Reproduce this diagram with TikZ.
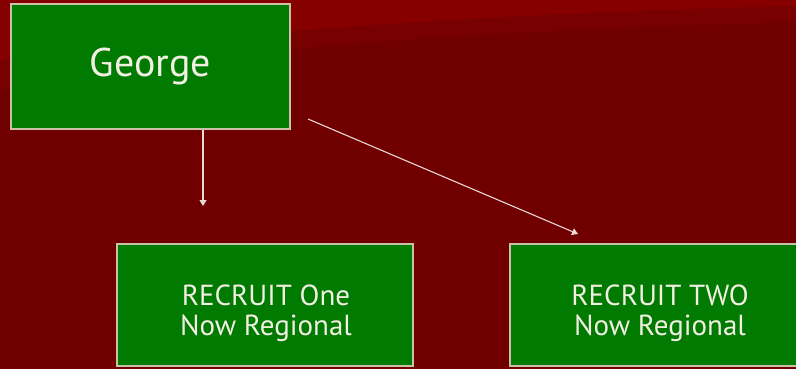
\documentclass[tikz,border=0pt]{standalone}
\usepackage{fontspec}
\setmainfont{PT Sans}
\usetikzlibrary{arrows.meta}
\definecolor{bgdark}{HTML}{700000}
\definecolor{bglight}{HTML}{860000}
\definecolor{bgmid}{HTML}{780000}
\definecolor{boxgreen}{HTML}{007A00}
\definecolor{boxrim}{HTML}{C9C2A8}
\definecolor{ink}{HTML}{F2F0E2}
\definecolor{wire}{HTML}{EAD8D4}
\tikzset{
  boxnode/.style={draw=boxrim, line width=1.2pt, fill=boxgreen, text=ink,
    align=center, inner sep=0pt},
  link/.style={draw=wire, line width=1.1pt,
    -{Triangle[width=7pt,length=6pt]}}
}
\begin{document}
\begin{tikzpicture}[x=1pt,y=-1pt]
  % canvas and background
  \useasboundingbox (0,0) rectangle (796,369);
  \clip (0,0) rectangle (796,369);
  \fill[bgdark] (0,0) rectangle (796,369);
  \fill[bgmid] (0,0) -- (0,90) .. controls (150,55) and (450,30) .. (796,22) -- (796,0) -- cycle;
  \fill[bglight] (0,0) -- (0,60) .. controls (120,45) and (400,15) .. (796,6) -- (796,0) -- cycle;

  % boxes
  \node[boxnode, minimum width=279pt, minimum height=125pt,
        font=\fontsize{40}{44}\selectfont] (george) at (150.5,66.5)
        {\raisebox{-4pt}{George}};
  \node[boxnode, minimum width=296pt, minimum height=122pt] (one) at (265,305) {};
  \node[boxnode, minimum width=300pt, minimum height=122pt] (two) at (660,305) {};

  % box texts
  \node[text=ink, align=center, font=\fontsize{29}{30}\selectfont] (onetext)
    at (266,313) {RECRUIT One\\Now Regional};
  \node[text=ink, align=center, font=\fontsize{29}{30}\selectfont] (twotext)
    at (660,313) {RECRUIT TWO\\Now Regional};

  % connectors
  \coordinate (downend) at (203,206);
  \coordinate (diagstart) at (308,119);
  \coordinate (diagend) at (578,234);
  \draw[link] (george.south -| downend) -- (downend);
  \draw[link] (diagstart) -- (diagend);
\end{tikzpicture}
\end{document}
